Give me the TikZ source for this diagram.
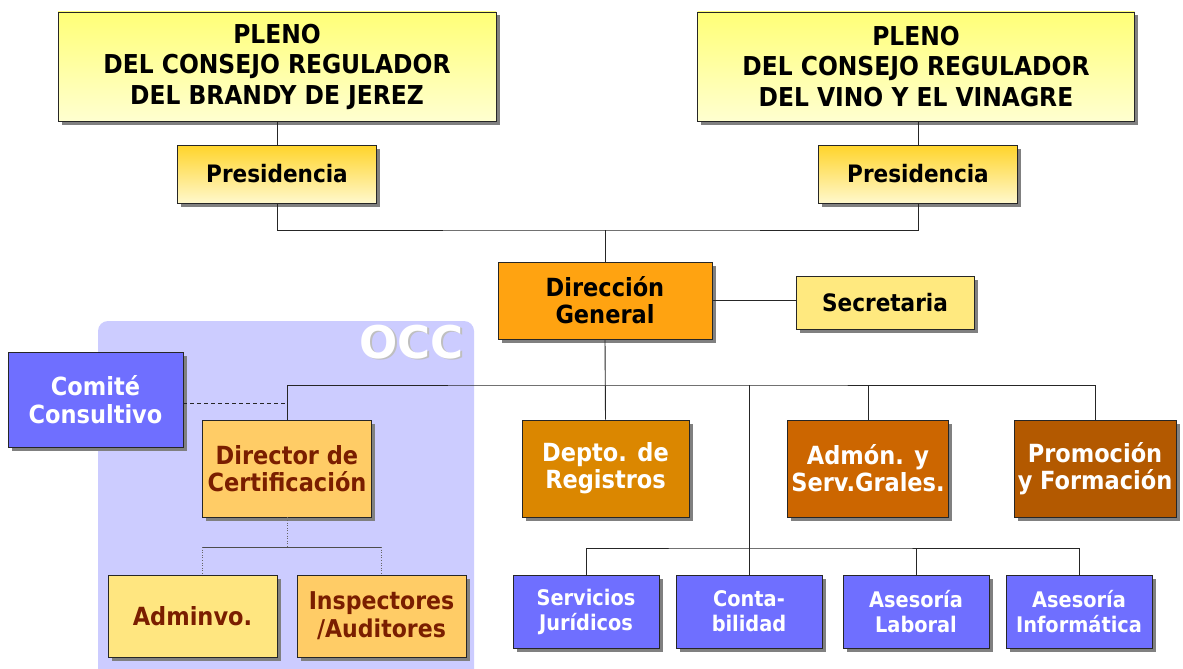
\documentclass[tikz,border=0pt]{standalone}
\usepackage{fontspec}
\setmainfont{DejaVu Sans Condensed}
\newfontfamily\occfont{DejaVu Sans}
\usetikzlibrary{shadows}
\definecolor{plenoTop}{HTML}{FFFF77}
\definecolor{plenoBot}{HTML}{FFFFD0}
\definecolor{presTop}{HTML}{FFD42A}
\definecolor{presBot}{HTML}{FFF8CC}
\definecolor{dirC}{HTML}{FFA311}
\definecolor{secrC}{HTML}{FFE97F}
\definecolor{deptoC}{HTML}{DB8700}
\definecolor{admonC}{HTML}{CC6600}
\definecolor{promoC}{HTML}{B35900}
\definecolor{blueC}{HTML}{6F6FFF}
\definecolor{occC}{HTML}{CCCCFF}
\definecolor{certC}{HTML}{FFCC66}
\definecolor{admvC}{HTML}{FFE680}
\definecolor{brownT}{HTML}{7A1E00}
\begin{document}
\begin{tikzpicture}[x=1pt,y=-1pt,
  box/.style={draw=black!85, line width=0.9pt, align=center, inner sep=0pt,
    font=\bfseries\fontsize{25}{27}\selectfont,
    drop shadow={shadow xshift=3.5pt, shadow yshift=-3.5pt, fill=black!50, opacity=1}},
  pleno/.style={box, top color=plenoTop, bottom color=plenoBot, font=\bfseries\fontsize{26}{30.5}\selectfont},
  pres/.style={box, top color=presTop, bottom color=presBot, font=\bfseries\fontsize{24}{27}\selectfont},
  blue/.style={box, fill=blueC, text=white},
  occbox/.style={box, text=brownT},
  occlabel/.style={font=\occfont\bfseries\fontsize{45}{45}\selectfont, anchor=north east, inner sep=0pt},
  conn/.style={line width=0.9pt, draw=black!85},
  thinconn/.style={line width=0.6pt, draw=black!70},
  dotconn/.style={line width=0.6pt, draw=black!60, dotted}
]
\useasboundingbox (0,0) rectangle (1183,669);
\fill[white] (0,0) rectangle (1183,669);
% OCC background
\fill[occC] (98,669) [rounded corners=10pt] -- (98,321) -- (474,321) [sharp corners] -- (474,669) -- cycle;
\node[occlabel, text=black!25] (occS) at (465.5,326) {OCC};
\node[occlabel, text=white] (occ) at (464,324.5) {OCC};

% top
\node[pleno, minimum width=438, minimum height=109] (plenoL) at (277,66.5) {PLENO\\DEL CONSEJO REGULADOR\\DEL BRANDY DE JEREZ};
\node[pleno, minimum width=437, minimum height=109] (plenoR) at (916,66.5) {PLENO\\DEL CONSEJO REGULADOR\\DEL VINO Y EL VINAGRE};
\node[pres, minimum width=199, minimum height=58] (presL) at (277,174) {Presidencia};
\node[pres, minimum width=199, minimum height=58] (presR) at (918,174) {Presidencia};
\node[box, fill=dirC, minimum width=214, minimum height=77] (dir) at (605,300.5) {Dirección\\General};
\node[box, fill=secrC, minimum width=178, minimum height=53, font=\bfseries\fontsize{24}{27}\selectfont] (secr) at (885,302.5) {Secretaria};

% middle row
\node[blue, minimum width=175, minimum height=95, font=\bfseries\fontsize{25}{28}\selectfont] (comite) at (95.5,399.5) {Comité\\Consultivo};
\node[occbox, fill=certC, minimum width=169, minimum height=97] (dircert) at (287,468.5) {Director de\\Certificación};
\node[box, fill=deptoC, text=white, minimum width=167, minimum height=97] (depto) at (605.5,468.5) {Depto. de\\Registros};
\node[box, fill=admonC, text=white, minimum width=161, minimum height=97] (admon) at (868,468.5) {Admón. y\\Serv.Grales.};
\node[box, fill=promoC, text=white, minimum width=162, minimum height=97] (promo) at (1095,468.5) {Promoción\\y Formación};

% OCC bottom
\node[occbox, fill=admvC, minimum width=169, minimum height=82] (adminvo) at (192.5,616) {Adminvo.};
\node[occbox, fill=certC, minimum width=169, minimum height=82, font=\bfseries\fontsize{24.5}{28}\selectfont] (inspect) at (381.5,616) {Inspectores\\/Auditores};

% bottom blue
\begin{scope}[every node/.style={blue, minimum width=146, minimum height=73, font=\bfseries\fontsize{21.5}{25}\selectfont}]
\node (serv) at (586,611.5) {Servicios\\Jurídicos};
\node (conta) at (749,611.5) {Conta-\\bilidad};
\node (lab) at (916,611.5) {Asesoría\\Laboral};
\node (inf) at (1079,611.5) {Asesoría\\Informática};
\end{scope}

% connectors
\coordinate (j1) at (605,230);
\coordinate (j2) at (605,385);
\coordinate (j3) at (749,548);
\draw[conn] (plenoL.south) -- (presL.north);
\draw[conn] (presR.north |- plenoR.south) -- (presR.north);
\draw[conn] (presL.south) |- (j1) -| (presR.south);
\draw[conn] (j1) -- (dir.north);
\draw[conn] (dir.east) -- (dir.east -| secr.west);
\draw[conn] (dir.south) -- (depto.north);
\draw[conn] (dircert.north) |- (j2) -| (promo.north);
\draw[conn] (admon.north) -- (admon.north |- j2);
\draw[conn] (conta.north) -- (conta.north |- j2);
\draw[conn] (serv.north) |- (j3) -| (inf.north);
\draw[conn] (lab.north) -- (lab.north |- j3);
\draw[conn, dashed, dash pattern=on 4pt off 3pt] (comite.east |- 0,403) -- (dircert.north |- 0,403);
% OCC internal
\coordinate (a1) at (202,547);
\draw[dotconn] (dircert.south) -- (dircert.south |- a1);
\draw[thinconn] (a1) -- (a1 -| inspect.north);
\draw[dotconn] (a1) -- (a1 |- adminvo.north);
\draw[dotconn] (inspect.north |- a1) -- (inspect.north);
\end{tikzpicture}
\end{document}
